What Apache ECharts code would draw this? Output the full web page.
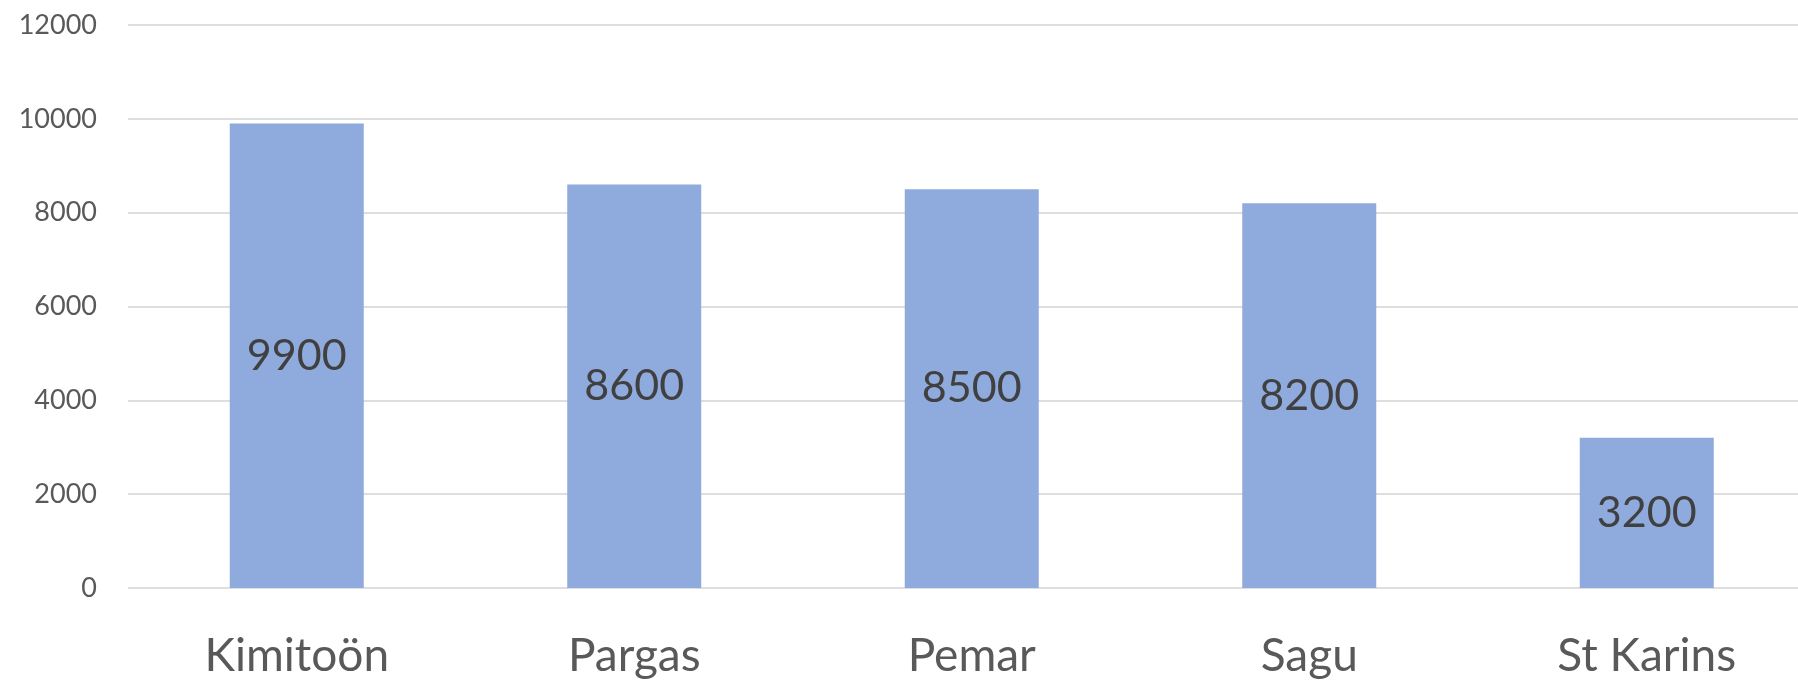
<!DOCTYPE html>
<html>
<head>
<meta charset="utf-8">
<script src="https://cdn.jsdelivr.net/npm/echarts@6/dist/echarts.min.js"></script>
<style>
  html, body { margin: 0; padding: 0; background: #ffffff; }
  #chart { width: 1798px; height: 681px; }
</style>
</head>
<body>
<div id="chart"></div>
<script>
const categories = ['Kimitoön', 'Pargas', 'Pemar', 'Sagu', 'St Karins'];
const values = [9900, 8600, 8500, 8200, 3200];
const yTicks = { min: 0, max: 12000, interval: 2000 };

const chart = echarts.init(document.getElementById('chart'));
chart.setOption({
  animation: false,
  backgroundColor: '#ffffff',
  textStyle: { fontFamily: 'Lato' },
  grid: { left: 128, top: 25, bottom: 93, right: -17.5, containLabel: false, outerBoundsMode: 'none' },
  xAxis: {
    type: 'category',
    data: categories,
    axisLine: { show: false },
    axisTick: { show: false },
    axisLabel: { color: '#595959', fontSize: 46, fontFamily: 'Lato', margin: 45 }
  },
  yAxis: {
    type: 'value',
    min: yTicks.min,
    max: yTicks.max,
    interval: yTicks.interval,
    axisLine: { show: false },
    axisTick: { show: false },
    axisLabel: {
      color: '#595959', fontSize: 27, fontFamily: 'Lato', margin: 31,
      formatter: function (v) { return String(v); }
    },
    splitLine: { lineStyle: { color: '#DEDEDE', width: 2 } }
  },
  series: [{
    type: 'bar',
    data: values,
    barWidth: 134,
    itemStyle: { color: '#8FAADC' },
    label: {
      show: true,
      position: 'inside',
      color: '#404040',
      fontSize: 43,
      fontFamily: 'Lato'
    }
  }]
});
</script>
</body>
</html>
